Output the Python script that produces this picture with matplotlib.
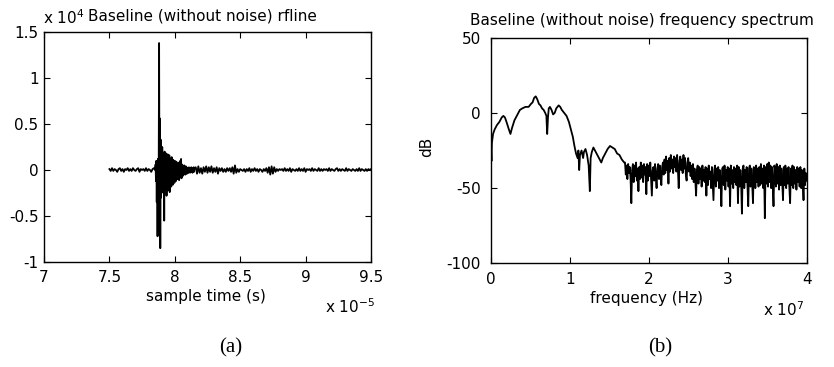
import numpy as np
import matplotlib.pyplot as plt

plt.rcParams['font.family'] = ['DejaVu Sans']
plt.rcParams['mathtext.default'] = 'regular'
plt.rcParams['axes.unicode_minus'] = False

W, H = 834, 367

# ---- rf line (time in 1e-5 s, amplitude in 1e4) ----
rf_pre = [0.01, -0.01, 0.02, -0.01, 0.01, 0.00, -0.02, 0.01, 0.02, -0.01,
          0.01, -0.02, 0.01, 0.00, 0.02, -0.01, 0.01, -0.01, 0.02, 0.00,
          -0.01, 0.01, 0.02, -0.02, 0.01, 0.00, 0.01, -0.01, 0.02, -0.01,
          0.01, 0.00, -0.02, 0.01, 0.02]
rf_burst = [0.00, 0.06, -0.12, 0.10, -0.35, 0.08, -0.72, 0.12, -0.70, 0.05,
            1.38, -0.40, 0.56, -0.85, 0.33, -0.30, 0.22, -0.20, 0.25, -0.15,
            0.18, -0.25, 0.15, -0.55, 0.20, -0.18, 0.12, -0.20, 0.18, -0.28,
            0.14, -0.15, 0.17, -0.22, 0.12, -0.12, 0.16, -0.24, 0.10, -0.13,
            0.12, -0.18, 0.14, -0.10, 0.09, -0.16, 0.11, -0.12, 0.08, -0.14,
            0.10, -0.09, 0.07, -0.12, 0.09, -0.08, 0.07, -0.10, 0.06, -0.09,
            0.08, -0.11, 0.06, -0.07, 0.10, -0.08, 0.12, -0.09, 0.06, -0.07,
            0.05, -0.06, 0.04, -0.05, 0.05, -0.04, 0.03, -0.05, 0.04, -0.03,
            0.03, -0.04, 0.02, -0.03, 0.02, -0.03, 0.03, -0.02, 0.02, -0.03,
            0.02, -0.02, 0.03, -0.02, 0.02, -0.03, 0.02, -0.02, 0.03, -0.02,
            0.02]
rf_post = [0.03, -0.04, 0.04, -0.03, 0.02, -0.04, 0.03, -0.02, 0.04, -0.03,
           0.03, -0.02, 0.04, -0.03, 0.02, -0.02, 0.03, -0.04, 0.02, -0.01,
           0.02, -0.02, 0.01, -0.02, 0.02, -0.01, 0.02, -0.02, 0.03, -0.04,
           0.05, -0.03, 0.01, -0.02, 0.01, 0.00, -0.01, 0.01, -0.02, 0.01,
           -0.01, 0.02, -0.02, 0.01, -0.01, 0.02, -0.01, 0.01, -0.02, 0.01,
           0.00, -0.02, 0.01, -0.01, 0.02, -0.03, 0.03, -0.05, 0.04, -0.04,
           0.03, -0.02, 0.01, -0.01, 0.01, 0.00, 0.01, -0.01, 0.02, -0.01,
           0.01, -0.01, 0.02, -0.02, 0.01, 0.00, -0.01, 0.01, -0.01, 0.02,
           -0.01, 0.01, -0.01, 0.02, -0.02, 0.01, 0.00, 0.01, -0.01, 0.02,
           -0.01, 0.01, 0.00, -0.01, 0.02, -0.01, 0.01, -0.01, 0.01, 0.00,
           0.01, -0.01, 0.02, -0.01, 0.01, 0.00, -0.01, 0.01, 0.02, -0.01,
           0.01, -0.01, 0.01, 0.00, -0.01, 0.02, -0.01, 0.01, 0.00, -0.01,
           0.01, 0.00, -0.01, 0.01, -0.01, 0.02, -0.01, 0.01, 0.00, -0.01,
           0.01, -0.01, 0.01, 0.00, 0.01]

t_pre = np.linspace(7.50, 7.84, len(rf_pre))
t_burst = np.linspace(7.85, 8.15, len(rf_burst))
t_post = np.linspace(8.16, 9.50, len(rf_post))
rf_t = np.concatenate([t_pre, t_burst, t_post])
rf_v = np.concatenate([rf_pre, rf_burst, rf_post])

# ---- spectrum (frequency in 1e7 Hz, dB) ----
spec_f_low = [0.000, 0.005, 0.010, 0.015, 0.030, 0.050, 0.080, 0.110, 0.140, 0.160,
              0.180, 0.200, 0.230, 0.250, 0.270, 0.300, 0.330, 0.370, 0.400, 0.440,
              0.480, 0.510, 0.530, 0.550, 0.570, 0.590, 0.610, 0.630, 0.650, 0.670,
              0.690, 0.705, 0.715, 0.725, 0.735, 0.750, 0.770, 0.790, 0.810, 0.830,
              0.860, 0.880, 0.900, 0.930, 0.960, 0.990, 1.010, 1.040, 1.060, 1.080,
              1.100, 1.110, 1.120, 1.130, 1.150, 1.170, 1.180, 1.200, 1.220, 1.240,
              1.255, 1.265, 1.280, 1.300, 1.330, 1.360, 1.380, 1.400, 1.420, 1.450,
              1.480, 1.510, 1.540, 1.570, 1.600, 1.630, 1.660, 1.690]
spec_db_low = [-37, -25, -32, -20, -14, -11, -8, -6, -3, -2,
               -3, -6, -11, -14, -10, -5, -2, 2, 3, 4,
               4, 6, 7, 10, 11, 9, 6, 5, 3, 2,
               0, -2, -14, -3, 3, 4, 2, -1, 0, 3,
               5, 4, 2, 0, -2, -6, -10, -16, -22, -27,
               -30, -25, -38, -28, -25, -30, -26, -24, -28, -35,
               -52, -30, -26, -23, -26, -29, -31, -33, -30, -27,
               -24, -22, -23, -24, -27, -28, -31, -33]
spec_db_high = [-33, -41, -35, -44, -34, -40, -36, -43, -60, -38,
                -34, -46, -35, -42, -33, -45, -37, -52, -36, -44,
                -33, -43, -35, -46, -34, -41, -36, -54, -34, -45,
                -35, -42, -33, -44, -55, -38, -36, -45, -34, -43,
                -50, -37, -34, -44, -35, -42, -48, -36, -33, -41,
                -31, -40, -29, -38, -32, -47, -30, -39, -28, -37,
                -31, -40, -29, -36, -30, -39, -28, -38, -50, -32,
                -29, -38, -31, -40, -28, -37, -30, -41, -45, -33,
                -30, -39, -33, -42, -35, -44, -34, -46, -37, -45,
                -55, -38, -35, -47, -36, -44, -37, -49, -35, -45,
                -38, -46, -36, -55, -37, -48, -35, -44, -39, -50,
                -36, -47, -58, -38, -35, -49, -37, -45, -36, -50,
                -38, -46, -62, -37, -36, -48, -35, -51, -38, -45,
                -36, -49, -37, -62, -35, -47, -38, -50, -36, -46,
                -37, -48, -35, -60, -36, -49, -38, -46, -67, -37,
                -35, -50, -38, -46, -36, -48, -62, -37, -35, -49,
                -37, -47, -60, -36, -38, -50, -35, -46, -37, -49,
                -36, -48, -34, -47, -37, -50, -35, -70, -36, -47,
                -34, -49, -33, -46, -35, -50, -36, -48, -62, -35,
                -37, -49, -34, -47, -36, -51, -35, -48, -37, -46,
                -58, -36, -48, -35, -50, -37, -47, -36, -49, -60,
                -37, -48, -35, -50, -36, -47, -38, -51, -36, -46,
                -37, -49, -36, -50, -38, -47, -58, -37, -48, -40,
                -45]
spec_f = np.concatenate([spec_f_low, np.linspace(1.70, 4.00, len(spec_db_high))])
spec_db = np.concatenate([spec_db_low, spec_db_high])

fig = plt.figure(figsize=(W / 100, H / 100), dpi=100)


def px_axes(left, top, right, bottom):
    return fig.add_axes([left / W, 1 - bottom / H, (right - left) / W, (bottom - top) / H])


def matlab_style(ax, ypad):
    ax.tick_params(direction='in', top=True, right=True, length=4, width=0.8,
                   labelsize=11, colors='black')
    ax.tick_params(axis='x', pad=6)
    ax.tick_params(axis='y', pad=ypad)
    for s in ax.spines.values():
        s.set_linewidth(1.0)


# (a) rf line
ax1 = px_axes(44, 32, 371, 262)
ax1.plot(rf_t, rf_v, color='black', lw=1.3)
ax1.set_xlim(7, 9.5)
ax1.set_ylim(-1, 1.5)
ax1.set_xticks([7, 7.5, 8, 8.5, 9, 9.5])
ax1.set_xticklabels(['7', '7.5', '8', '8.5', '9', '9.5'])
ax1.set_yticks([-1, -0.5, 0, 0.5, 1, 1.5])
ax1.set_yticklabels(['-1', '-0.5', '0', '0.5', '1', '1.5'])
matlab_style(ax1, 4)

fig.text(43 / W, 1 - 18 / H, r'x 10$^{4}$', fontsize=11, ha='left', va='center')
fig.text(88 / W, 1 - 16 / H, 'Baseline (without noise) rfline', fontsize=11, ha='left', va='center')
fig.text(206 / W, 1 - 297 / H, 'sample time (s)', fontsize=11, ha='center', va='center')
fig.text(325 / W, 1 - 307 / H, r'x 10$^{-5}$', fontsize=11, ha='left', va='center')

# (b) spectrum
ax2 = px_axes(490.7, 37.7, 806.7, 263.3)
ax2.plot(spec_f, spec_db, color='black', lw=1.3)
ax2.set_xlim(0, 4)
ax2.set_ylim(-100, 50)
ax2.set_xticks([0, 1, 2, 3, 4])
ax2.set_yticks([-100, -50, 0, 50])
matlab_style(ax2, 7)

fig.text(642 / W, 1 - 21 / H, 'Baseline (without noise) frequency spectrum', fontsize=11,
         ha='center', va='center')
fig.text(647 / W, 1 - 298 / H, 'frequency (Hz)', fontsize=11, ha='center', va='center')
fig.text(763 / W, 1 - 310 / H, r'x 10$^{7}$', fontsize=11, ha='left', va='center')
fig.text(427 / W, 1 - 147 / H, 'dB', fontsize=11, rotation=90, ha='center', va='center')

# panel letters
fig.text(231 / W, 1 - 348 / H, '(a)', fontsize=15, family='Liberation Serif', ha='center', va='center')
fig.text(660 / W, 1 - 348 / H, '(b)', fontsize=15, family='Liberation Serif', ha='center', va='center')

fig.savefig('out.png', dpi=100)
